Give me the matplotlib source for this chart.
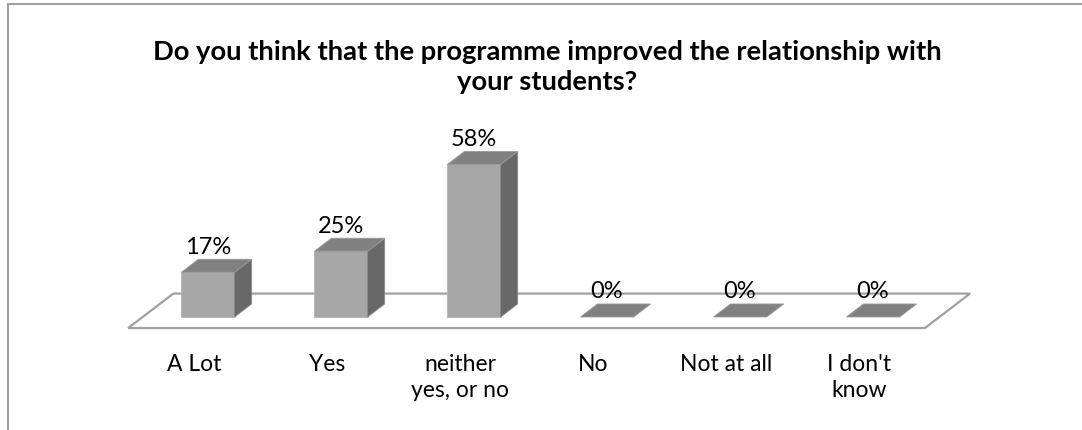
import numpy as np
import matplotlib
matplotlib.use("Agg")
import matplotlib.pyplot as plt
from matplotlib.patches import Polygon
from matplotlib.lines import Line2D

# Datos
categorias = ["A Lot", "Yes", "neither\nyes, or no", "No", "Not at all", "I don't\nknow"]
valores = [17, 25, 58, 0, 0, 0]
etiquetas = ["17%", "25%", "58%", "0%", "0%", "0%"]
titulo = "Do you think that the programme improved the relationship with\nyour students?"

plt.rcParams['font.family'] = ['Lato', 'DejaVu Sans']

# Colores de las caras
color_frente = "#a6a6a6"
color_arriba = "#808080"
color_lado = "#686868"
color_borde = "#a0a0a0"

fig = plt.figure(figsize=(10.82, 4.30), dpi=100)
ax = fig.add_axes([0, 0, 1, 1])
ax.set_xlim(-1.564, 6.571)
ax.set_ylim(-42.97, 120.5)
ax.axis("off")

# Profundidad oblicua de las barras
ancho = 0.40
prof_x = 0.128
prof_y = 4.94

# Piso
piso_y = -4.2
piso_x0, piso_x1 = -0.60, 5.39
k = 2.65
piso = Polygon([(piso_x0, piso_y), (piso_x1, piso_y),
                (piso_x1 + k * prof_x, piso_y + k * prof_y),
                (piso_x0 + k * prof_x, piso_y + k * prof_y)],
               closed=True, facecolor="white", edgecolor=color_borde, lw=1.6, zorder=1)
ax.add_patch(piso)

x = np.arange(len(valores))
for i, v in zip(x, valores):
    x0 = i - ancho / 2
    x1 = i + ancho / 2
    if v > 0:
        frente = Polygon([(x0, 0), (x1, 0), (x1, v), (x0, v)], closed=True,
                         facecolor=color_frente, edgecolor="#b4b4b4", lw=0.6, zorder=3)
        lado = Polygon([(x1, 0), (x1 + prof_x, prof_y), (x1 + prof_x, v + prof_y), (x1, v)],
                       closed=True, facecolor=color_lado, edgecolor="#8a8a8a", lw=0.6, zorder=3)
        ax.add_patch(frente)
        ax.add_patch(lado)
    arriba = Polygon([(x0, v), (x1, v), (x1 + prof_x, v + prof_y), (x0 + prof_x, v + prof_y)],
                     closed=True, facecolor=color_arriba, edgecolor="#9a9a9a", lw=0.6, zorder=3)
    ax.add_patch(arriba)

# Etiquetas de valores
for i, v, e in zip(x, valores, etiquetas):
    ax.text(i, v + prof_y + 0.6, e, ha="center", va="bottom", fontsize=17, color="black", zorder=5)

# Etiquetas de categorias
for i, c in zip(x, categorias):
    ax.text(i - 0.105, -14.0, c, ha="center", va="top", fontsize=16.5,
            linespacing=1.32, color="black")

fig.text(0.506, 0.845, titulo, ha="center", va="center", fontsize=19.7,
         fontweight="bold", linespacing=1.3)

# Marco exterior
fig.add_artist(Line2D([8 / 1082, 1], [1 - 4 / 430, 1 - 4 / 430], color=color_borde, lw=1.5))
fig.add_artist(Line2D([8 / 1082, 8 / 1082], [0, 1 - 4 / 430], color=color_borde, lw=1.5))

fig.savefig("out.png", dpi=100)
